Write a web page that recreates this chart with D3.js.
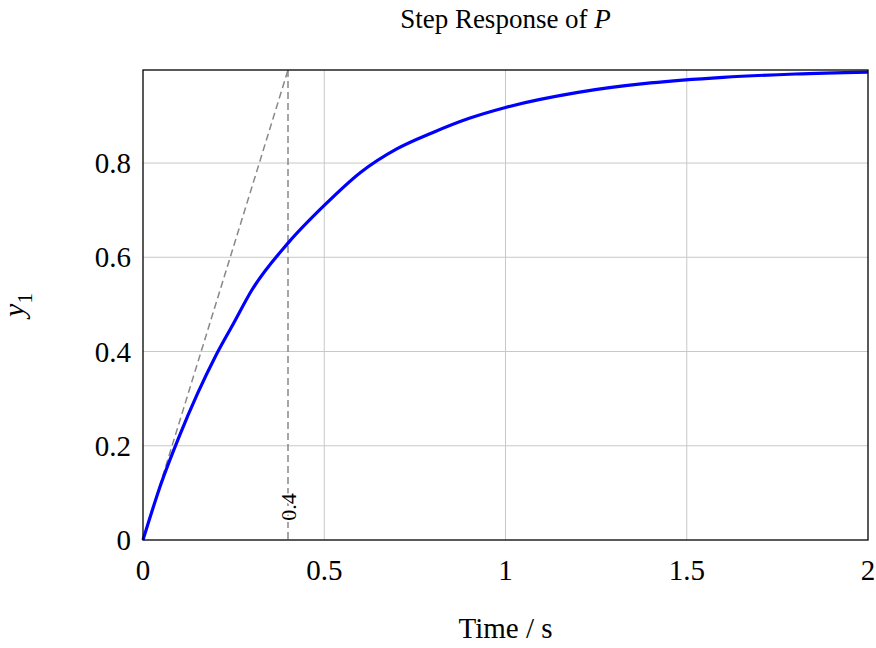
<!DOCTYPE html>
<html>
<head>
<meta charset="utf-8">
<style>
	body { margin: 0; background: #fff; }
	text { font-family: 'Liberation Serif', 'DejaVu Serif', serif; fill: #000; }
</style>
</head>
<body>
<svg width="876" height="648"></svg>
<script src="https://d3js.org/d3.v7.min.js"></script>
<script>
	// values
	let times = [0, 0.05, 0.1, 0.15, 0.2, 0.25, 0.3, 0.4, 0.5, 0.6, 0.7, 0.8, 0.9, 1.0, 1.2, 1.4, 1.6, 1.8, 2.0]
	let response = [0, 0.12, 0.22, 0.31, 0.39, 0.46, 0.53, 0.63, 0.71, 0.78, 0.83, 0.865, 0.895, 0.918, 0.95, 0.97, 0.982, 0.989, 0.993]
	let xTicks = [0, 0.5, 1, 1.5, 2]
	let yTicks = [0, 0.2, 0.4, 0.6, 0.8]
	let tau = 0.4
	let yTop = 0.9975

	let svg = d3.select('svg')
	let pLeft = 143, pRight = 868, pTop = 70, pBottom = 540

	let x = d3.scaleLinear().domain([0, 2]).range([pLeft, pRight])
	let y = d3.scaleLinear().domain([0, yTop]).range([pBottom, pTop])

	// grid
	svg.append('g').selectAll('line').data(xTicks.slice(1, -1)).join('line')
		.attr('x1', d => x(d)).attr('x2', d => x(d)).attr('y1', pTop).attr('y2', pBottom)
		.style('stroke', '#c8c8c8').style('stroke-width', 1)
	svg.append('g').selectAll('line').data(yTicks.slice(1)).join('line')
		.attr('x1', pLeft).attr('x2', pRight).attr('y1', d => y(d)).attr('y2', d => y(d))
		.style('stroke', '#c8c8c8').style('stroke-width', 1)

	// tangent + time constant marker
	svg.append('line')
		.attr('x1', x(0)).attr('y1', y(0)).attr('x2', x(tau)).attr('y2', y(yTop))
		.style('stroke', '#888').style('stroke-width', 1.5).style('stroke-dasharray', '7,4')
	svg.append('line')
		.attr('x1', x(tau)).attr('y1', y(yTop)).attr('x2', x(tau)).attr('y2', y(0))
		.style('stroke', '#888').style('stroke-width', 1.5).style('stroke-dasharray', '7,4')
	svg.append('text')
		.attr('transform', `translate(${x(tau) + 8},${y(0.07)}) rotate(-90)`)
		.style('font-size', '22px').attr('text-anchor', 'middle')
		.style('paint-order', 'stroke').style('stroke', '#fff').style('stroke-width', 4)
		.text(tau)

	// curve
	let line = d3.line().x((d, i) => x(times[i])).y(d => y(d)).curve(d3.curveMonotoneX)
	svg.append('path').datum(response).attr('d', line)
		.style('fill', 'none').style('stroke', '#0000ff').style('stroke-width', 3.2)

	// frame
	svg.append('rect').attr('x', pLeft).attr('y', pTop).attr('width', pRight - pLeft).attr('height', pBottom - pTop)
		.style('fill', 'none').style('stroke', '#000').style('stroke-width', 1.3)

	// ticks
	svg.append('g').selectAll('text').data(xTicks).join('text')
		.attr('x', d => x(d)).attr('y', pBottom + 40).attr('text-anchor', 'middle')
		.style('font-size', '29px').text(d => d)
	svg.append('g').selectAll('text').data(yTicks).join('text')
		.attr('x', pLeft - 12).attr('y', d => y(d) + 10).attr('text-anchor', 'end')
		.style('font-size', '29px').text(d => d)

	// labels
	svg.append('text').attr('x', (pLeft + pRight) / 2).attr('y', 28).attr('text-anchor', 'middle')
		.style('font-size', '27px').html('Step Response of <tspan font-style="italic">P</tspan>')
	svg.append('text').attr('x', (pLeft + pRight) / 2).attr('y', 638).attr('text-anchor', 'middle')
		.style('font-size', '29px').text('Time / s')
	svg.append('text')
		.attr('transform', `translate(24,${(pTop + pBottom) / 2}) rotate(-90)`)
		.attr('text-anchor', 'middle').style('font-size', '30px')
		.html('<tspan font-style="italic">y</tspan><tspan font-size="21px" dy="8">1</tspan>')
</script>
</body>
</html>
